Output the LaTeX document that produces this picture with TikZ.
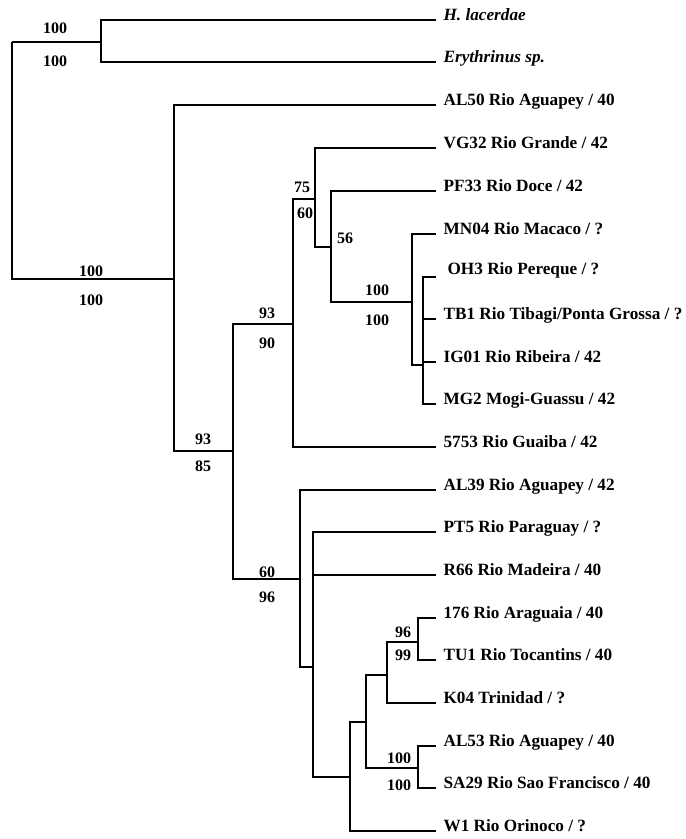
\documentclass[tikz,border=0pt]{standalone}
\usepackage{fontspec}
\setmainfont{Liberation Serif}
\begin{document}
\begin{tikzpicture}[x=1pt,y=-1pt,line width=1.2pt,
    taxon/.style={anchor=base west,inner sep=0pt,
      font=\fontsize{17.2}{19}\selectfont\bfseries},
    support/.style={inner sep=0pt,
      font=\fontsize{16}{18}\selectfont\bfseries}]
  \useasboundingbox (0,0) rectangle (686,839);

  % Internal nodes: x of the split, y where the stem joins.
  \coordinate (root) at (12,42);
  \foreach \n/\x/\y in {nOut/101/42, nIn/174/279, nA/233/451, nB/293/324,
      nC/315/199, nD/331/247, nE/412/302, nF/423/365, nG/300/579,
      nH/313/667, nI/350/777, nJ/366/722, nK/387/675, nL/418/642,
      nM/418/768}
    \coordinate (\n) at (\x,\y);

  % Leaf tips and their labels.
  \foreach \n/\y/\lab in {
      lac/20/{\itshape H. lacerdae},
      ery/62/{\itshape Erythrinus sp.},
      al50/105/{AL50 Rio Aguapey / 40},
      vg32/148/{VG32 Rio Grande / 42},
      pf33/191/{PF33 Rio Doce / 42},
      mn04/234/{MN04 Rio Macaco / ?},
      tb1/319/{TB1 Rio Tibagi/Ponta Grossa / ?},
      ig01/362/{IG01 Rio Ribeira / 42},
      mg2/404/{MG2 Mogi-Guassu / 42},
      s5753/447/{5753 Rio Guaiba / 42},
      al39/490/{AL39 Rio Aguapey / 42},
      pt5/532/{PT5 Rio Paraguay / ?},
      r66/575/{R66 Rio Madeira / 40},
      i176/618/{176 Rio Araguaia / 40},
      tu1/660/{TU1 Rio Tocantins / 40},
      k04/703/{K04 Trinidad / ?},
      al53/746/{AL53 Rio Aguapey / 40},
      sa29/788/{SA29 Rio Sao Francisco / 40},
      w1/831/{W1 Rio Orinoco / ?}} {
    \coordinate (\n) at (436,\y);
    \node[taxon] (t\n) at ([xshift=7pt]\n) {\lab};
  }
  \coordinate (oh3) at (436,277);
  \node[taxon] (toh3) at ([xshift=11pt,yshift=3pt]oh3) {OH3 Rio Pereque / ?};

  % Branches, parent to child.
  \foreach \p/\c in {root/nOut, root/nIn, nOut/lac, nOut/ery,
      nIn/al50, nIn/nA, nA/nB, nA/nG, nB/nC, nB/s5753, nC/vg32, nC/nD,
      nD/pf33, nD/nE, nE/mn04, nE/nF, nF/oh3, nF/tb1, nF/ig01, nF/mg2,
      nG/al39, nG/nH, nH/pt5, nH/r66, nH/nI, nI/nJ, nI/w1, nJ/nK,
      nJ/nM, nK/nL, nK/k04, nL/i176, nL/tu1, nM/al53, nM/sa29}
    \draw (\p) |- (\c);

  % Support values above and below the stems.
  \foreach \n/\x/\y/\v in {sOutA/55/28/100, sOutB/55/61/100,
      sInA/91/271/100, sInB/91/300/100, sAA/203/439/93, sAB/203/466/85,
      sBA/267/313/93, sBB/267/343/90, sCA/302/187/75, sCB/305/213/60,
      sD/345/238/56, sEA/377/290/100, sEB/377/320/100,
      sGA/267/572/60, sGB/267/597/96, sLA/403/632/96, sLB/403/655/99,
      sMA/399/758/100, sMB/399/785/100}
    \node[support] (\n) at (\x,\y) {\v};
\end{tikzpicture}
\end{document}
